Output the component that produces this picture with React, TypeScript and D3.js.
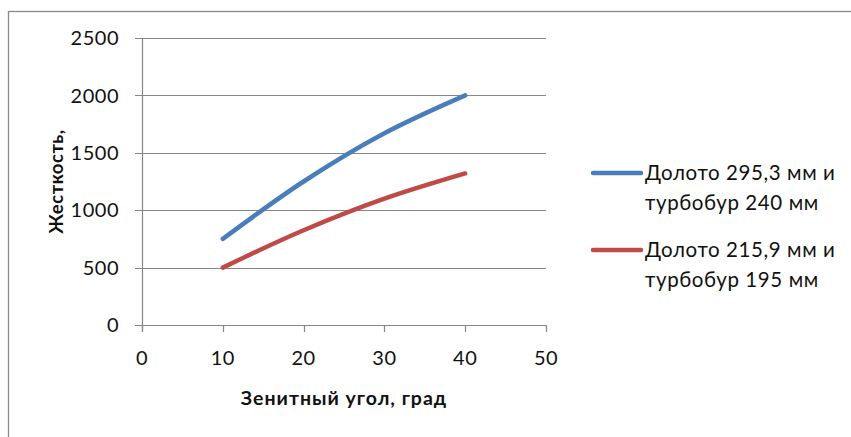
import React from "react";
import * as d3 from "d3";

// Зенитный угол, град
const angles = [10, 20, 30, 40];
// Жесткость для двух компоновок
const stiffness2953 = [750, 1250, 1670, 2000];
const stiffness2159 = [500, 825, 1100, 1320];

const seriesNames = [
  ["Долото 295,3 мм и", "турбобур 240 мм"],
  ["Долото 215,9 мм и", "турбобур 195 мм"],
];
const seriesColors = ["#4A7EBB", "#BE4B48"];

const xTicks = [0, 10, 20, 30, 40, 50];
const yTicks = [0, 500, 1000, 1500, 2000, 2500];

const W = 851;
const H = 437;
const FONT = "Lato, 'Open Sans', sans-serif";

export default function App() {
  const x = d3.scaleLinear().domain([0, 50]).range([142, 546]);
  const y = d3.scaleLinear().domain([0, 2500]).range([325, 38]);

  const series = [stiffness2953, stiffness2159];
  const line = d3
    .line<[number, number]>()
    .x((d) => x(d[0]))
    .y((d) => y(d[1]))
    .curve(d3.curveCatmullRom.alpha(0.5));

  const gridColor = "#868686";

  return (
    <svg
      width={W}
      height={H}
      style={{ position: "absolute", left: 0, top: 0, background: "#fff" }}
    >
      <rect x={0} y={0} width={W} height={H} fill="#fff" />
      {/* chart frame */}
      <rect
        x={8.5}
        y={11.5}
        width={W + 20}
        height={H + 20}
        fill="none"
        stroke="#8a8a8a"
        strokeWidth={1.3}
      />

      {/* horizontal gridlines and y ticks */}
      {yTicks.map((t) => (
        <g key={"y" + t}>
          <line
            x1={135}
            x2={546}
            y1={Math.round(y(t)) + 0.5}
            y2={Math.round(y(t)) + 0.5}
            stroke={gridColor}
            strokeWidth={1.2}
          />
          <text
            x={119}
            y={y(t)}
            dy="0.36em"
            textAnchor="end"
            fontFamily={FONT}
            fontSize={20}
            letterSpacing={0.5}
            fill="#111"
          >
            {t}
          </text>
        </g>
      ))}

      {/* y axis */}
      <line
        x1={x(0) + 0.5}
        x2={x(0) + 0.5}
        y1={y(2500)}
        y2={y(0) + 7}
        stroke={gridColor}
        strokeWidth={1.2}
      />

      {/* x ticks */}
      {xTicks.map((t) => (
        <g key={"x" + t}>
          <line
            x1={Math.round(x(t)) + 0.5}
            x2={Math.round(x(t)) + 0.5}
            y1={y(0)}
            y2={y(0) + 7}
            stroke={gridColor}
            strokeWidth={1.2}
          />
          <text
            x={x(t)}
            y={358}
            dy="0.36em"
            textAnchor="middle"
            fontFamily={FONT}
            fontSize={20}
            letterSpacing={0.5}
            fill="#111"
          >
            {t}
          </text>
        </g>
      ))}

      {/* series lines */}
      {series.map((vals, i) => (
        <path
          key={"s" + i}
          d={line(angles.map((a, j) => [a, vals[j]] as [number, number])) || ""}
          fill="none"
          stroke={seriesColors[i]}
          strokeWidth={4.5}
          strokeLinecap="round"
        />
      ))}

      {/* axis titles */}
      <text
        x={344}
        y={398}
        dy="0.36em"
        textAnchor="middle"
        fontFamily={FONT}
        fontWeight="bold"
        fontSize={19.5}
        letterSpacing={1}
        fill="#111"
      >
        Зенитный угол, град
      </text>
      <text
        transform={`translate(56,${(y(0) + y(2500)) / 2}) rotate(-90)`}
        dy="0.36em"
        textAnchor="middle"
        fontFamily={FONT}
        fontWeight="bold"
        fontSize={18.5}
        letterSpacing={0.5}
        fill="#111"
      >
        Жесткость,
      </text>

      {/* legend */}
      {seriesNames.map((lines, i) => {
        const top = 173 + i * 77;
        return (
          <g key={"l" + i}>
            <line
              x1={593}
              x2={641}
              y1={top}
              y2={top}
              stroke={seriesColors[i]}
              strokeWidth={4.5}
              strokeLinecap="round"
            />
            {lines.map((s, k) => (
              <text
                key={k}
                x={645}
                y={top + k * 30}
                dy="0.36em"
                fontFamily={FONT}
                fontSize={20.5}
                letterSpacing={0.6}
                fill="#111"
              >
                {s}
              </text>
            ))}
          </g>
        );
      })}
    </svg>
  );
}
